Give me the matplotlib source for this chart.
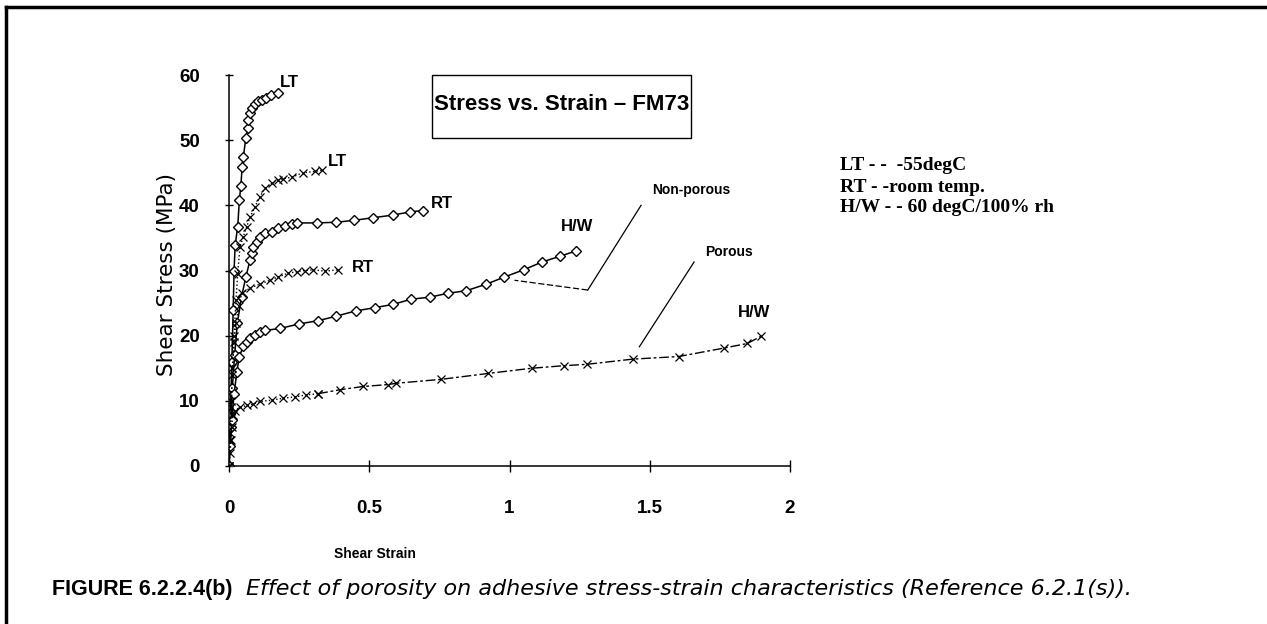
import matplotlib
matplotlib.use("Agg")
import matplotlib.pyplot as plt
from matplotlib.patches import Rectangle

# --- data (shear strain, shear stress MPa) ---
lt_np_x = [0, 0.005, 0.010, 0.015, 0.018, 0.022, 0.031, 0.037, 0.042, 0.047, 0.051, 0.060,
           0.066, 0.069, 0.075, 0.081, 0.093, 0.102, 0.116, 0.132, 0.148, 0.173]
lt_np_y = [0, 8, 16, 24, 30, 33.9, 36.7, 40.8, 42.9, 45.9, 47.4, 50.3,
           51.8, 53.1, 54.1, 54.9, 55.6, 56.0, 56.2, 56.4, 56.9, 57.2]

lt_p_x = [0, 0.004, 0.008, 0.012, 0.018, 0.025, 0.031, 0.039, 0.051, 0.063, 0.075, 0.093,
          0.110, 0.128, 0.152, 0.175, 0.193, 0.223, 0.264, 0.306, 0.330]
lt_p_y = [0, 4, 9, 14, 20, 25.5, 29.5, 33.6, 35.2, 36.7, 38.2, 39.8,
          41.3, 42.6, 43.4, 43.9, 44.1, 44.3, 45.0, 45.2, 45.4]

rt_np_x = [0, 0.006, 0.012, 0.020, 0.030, 0.045, 0.060, 0.075, 0.081, 0.086, 0.099, 0.110,
           0.128, 0.152, 0.176, 0.199, 0.223, 0.244, 0.312, 0.381, 0.446, 0.514, 0.583,
           0.647, 0.692]
rt_np_y = [0, 6, 12, 17, 22, 26, 29, 31.6, 32.7, 33.6, 34.4, 35.2,
           35.7, 35.9, 36.5, 36.9, 37.1, 37.3, 37.3, 37.4, 37.7, 38.1, 38.5,
           39.0, 39.2]

rt_p_x = [0, 0.004, 0.008, 0.012, 0.018, 0.025, 0.035, 0.045, 0.075, 0.110, 0.146, 0.175,
          0.211, 0.241, 0.270, 0.300, 0.342, 0.389]
rt_p_y = [0, 5, 10, 15, 19, 22, 24.5, 26.5, 27.3, 27.9, 28.5, 29.0,
          29.6, 29.8, 30.0, 30.1, 29.9, 30.1]

hw_np_x = [0, 0.005, 0.010, 0.018, 0.028, 0.037, 0.051, 0.063, 0.075, 0.093, 0.110, 0.128,
           0.181, 0.250, 0.318, 0.383, 0.452, 0.520, 0.585, 0.650, 0.715, 0.780, 0.846,
           0.917, 0.982, 1.050, 1.116, 1.181, 1.237]
hw_np_y = [0, 3, 7, 11, 14.5, 16.8, 18.4, 19.1, 19.6, 20.1, 20.5, 20.8,
           21.1, 21.8, 22.3, 23.0, 23.8, 24.3, 24.8, 25.6, 25.9, 26.5, 26.9,
           27.9, 29.0, 30.1, 31.3, 32.2, 33.0]

hw_p_x = [0, 0.004, 0.007, 0.010, 0.013, 0.020, 0.040, 0.065, 0.086, 0.110, 0.152, 0.193,
          0.235, 0.274, 0.318, 0.395, 0.478, 0.567, 0.597, 0.757, 0.923, 1.079, 1.196,
          1.275, 1.439, 1.603, 1.765, 1.848, 1.896]
hw_p_y = [0, 2, 4, 6, 7.8, 8.5, 9.0, 9.3, 9.5, 9.9, 10.1, 10.4,
          10.6, 10.9, 11.1, 11.7, 12.2, 12.5, 12.7, 13.3, 14.2, 15.0, 15.4,
          15.6, 16.4, 16.8, 18.1, 18.8, 19.9]

x_ticks = [0, 0.5, 1, 1.5, 2]
x_labels = ["0", "0.5", "1", "1.5", "2"]
y_ticks = [0, 10, 20, 30, 40, 50, 60]

W, H = 1267, 624
fig = plt.figure(figsize=(W / 100, H / 100), dpi=100)
ax = fig.add_axes([229 / W, 1 - 466 / H, (790 - 229) / W, (466 - 75) / H])

dia = dict(marker="D", ms=5, mfc="white", mec="black", mew=1.0, color="black", lw=1.1)
crs = dict(marker="x", ms=6, mec="black", mew=0.9, color="black", lw=1.0)

ax.plot(lt_np_x, lt_np_y, ls="-", **dia)
ax.plot(rt_np_x, rt_np_y, ls="-", **dia)
ax.plot(hw_np_x, hw_np_y, ls="-", **dia)
ax.plot(lt_p_x, lt_p_y, ls=":", **crs)
ax.plot(rt_p_x, rt_p_y, ls=":", **crs)
k = hw_p_x.index(0.318)
ax.plot(hw_p_x[:k + 1], hw_p_y[:k + 1], ls=":", **crs)
ax.plot(hw_p_x[k:], hw_p_y[k:], ls=(0, (7, 2, 2, 2)), **crs)

ax.set_xlim(0, 2)
ax.set_ylim(0, 60)
for s in ["top", "right"]:
    ax.spines[s].set_visible(False)
ax.spines["left"].set_linewidth(1.1)
ax.spines["bottom"].set_linewidth(1.1)
ax.set_xticks(x_ticks)
ax.set_xticklabels(x_labels)
ax.set_yticks(y_ticks)
ax.tick_params(axis="x", direction="inout", length=9, width=1, pad=20)
ax.tick_params(axis="y", direction="inout", length=6, width=1, pad=18)
for lab in ax.get_xticklabels() + ax.get_yticklabels():
    lab.set_fontfamily("Liberation Sans")
    lab.set_fontweight("bold")
    lab.set_fontsize(13.5)
fig.text(167 / W, 1 - 275 / H, "Shear Stress (MPa)", fontsize=15.5, fontfamily="DejaVu Sans",
         rotation=90, ha="center", va="center")
ax.text(0.52, -13.5, "Shear Strain", fontsize=10, fontweight="bold", fontfamily="Liberation Sans",
        ha="center", va="center", clip_on=False)

# curve labels
lab_kw = dict(fontsize=12, fontweight="bold", fontfamily="Liberation Sans", ha="center", va="center")
ax.text(0.217, 58.9, "LT", **lab_kw)
ax.text(0.386, 46.8, "LT", **lab_kw)
ax.text(0.758, 40.3, "RT", **lab_kw)
ax.text(0.477, 30.5, "RT", **lab_kw)
ax.text(1.242, 36.8, "H/W", **lab_kw)
ax.text(1.872, 23.6, "H/W", **lab_kw)
ax.text(1.648, 42.3, "Non-porous", fontsize=10, fontweight="bold", fontfamily="Liberation Sans",
        ha="center", va="center")
ax.text(1.783, 32.8, "Porous", fontsize=10, fontweight="bold", fontfamily="Liberation Sans",
        ha="center", va="center")

# leader lines
ax.plot([1.469, 1.279], [40.0, 27.0], color="black", lw=0.9)
ax.plot([1.279, 1.018], [27.0, 28.5], color="black", lw=0.9, ls=(0, (5, 2)))
ax.plot([1.658, 1.463], [31.3, 18.3], color="black", lw=0.9)

# boxed title
fig.add_artist(Rectangle((432 / W, 1 - 138 / H), (691 - 432) / W, (138 - 75) / H,
                         transform=fig.transFigure, fc="none", ec="black", lw=1.0))
fig.text(562 / W, 1 - 104 / H, "Stress vs. Strain \u2013 FM73", fontsize=16, fontweight="bold",
         fontfamily="Liberation Sans", ha="center", va="center")

# key on the right
key = ["LT - -  -55degC", "RT - -room temp.", "H/W - - 60 degC/100% rh"]
for i, t in enumerate(key):
    fig.text(840 / W, 1 - (166 + 21 * i) / H, t, fontsize=14, fontweight="bold",
             fontfamily="Liberation Serif", ha="left", va="center")

# caption
fig.text(52 / W, 1 - 589 / H, "FIGURE 6.2.2.4(b)", fontsize=15.5, fontweight="bold",
         fontfamily="Liberation Sans", ha="left", va="center")
fig.text(246 / W, 1 - 589 / H,
         "Effect of porosity on adhesive stress-strain characteristics (Reference 6.2.1(s)).",
         fontsize=16, fontstyle="italic", fontfamily="DejaVu Sans", ha="left", va="center")

# page frame (top and left edges only)
fig.add_artist(plt.Line2D([6 / W, 1], [1 - 7 / H, 1 - 7 / H], color="black", lw=2.5))
fig.add_artist(plt.Line2D([6 / W, 6 / W], [0, 1 - 7 / H], color="black", lw=2.5))

fig.savefig("out.png", dpi=100)
